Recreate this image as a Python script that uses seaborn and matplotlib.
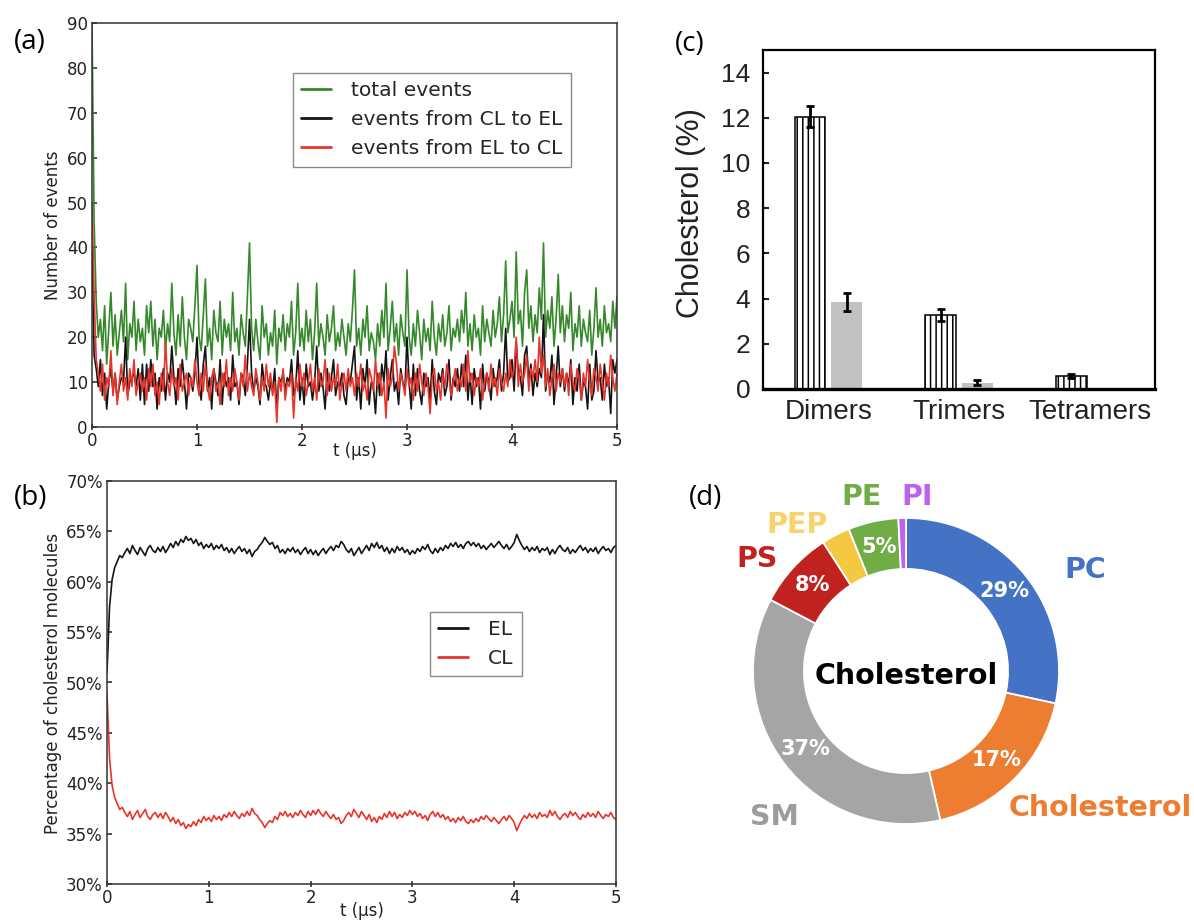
import numpy as np
import pandas as pd
import matplotlib
matplotlib.use("Agg")
import matplotlib.pyplot as plt
import seaborn as sns
from matplotlib.ticker import PercentFormatter

# ---------------- data ----------------
# (a) number of exchange events vs time (0 .. 5 us)
total_events = [
    90, 46, 28, 20, 24, 17, 27, 14, 22, 30, 18, 25, 16, 21, 26, 19, 32, 15, 23, 20, 28, 17, 24, 19, 22,
    16, 27, 21, 28, 18, 24, 15, 22, 20, 26, 17, 23, 19, 32, 21, 16, 25, 18, 29, 20, 15, 24, 22, 19, 27,
    36, 20, 17, 25, 33, 18, 22, 15, 26, 21, 19, 28, 16, 24, 20, 23, 17, 30, 19, 22, 16, 25, 21, 18, 29,
    41, 22, 17, 24, 19, 15, 27, 20, 23, 16, 21, 18, 26, 14, 22, 19, 25, 17, 23, 20, 28, 16, 21, 32, 18,
    22, 17, 26, 19, 24, 15, 21, 32, 18, 23, 20, 16, 25, 19, 22, 27, 17, 21, 18, 24, 20, 16, 23, 19, 26,
    35, 18, 22, 16, 24, 20, 27, 17, 21, 19, 15, 23, 18, 26, 20, 32, 17, 22, 28, 19, 23, 16, 25, 21, 18,
    35, 20, 16, 23, 18, 26, 21, 15, 24, 19, 22, 17, 28, 20, 16, 23, 19, 25, 18, 21, 27, 17, 22, 20, 24,
    19, 26, 21, 30, 18, 23, 17, 25, 20, 22, 16, 27, 19, 24, 21, 18, 26, 20, 23, 29, 19, 25, 37, 21, 24,
    28, 20, 39, 23, 26, 18, 30, 35, 22, 27, 19, 25, 21, 31, 24, 41, 20, 26, 22, 29, 18, 24, 34, 21, 27,
    19, 25, 22, 30, 17, 23, 20, 27, 18, 24, 21, 19, 26, 16, 22, 31, 20, 24, 18, 27, 21, 23, 19, 28, 22,
    29,
]
cl_to_el = [
    40, 16, 13, 9, 15, 7, 12, 4, 10, 13, 8, 12, 6, 9, 11, 10, 20, 7, 10, 11, 12, 9, 13, 6, 14,
    5, 14, 8, 15, 9, 12, 4, 11, 8, 13, 6, 12, 10, 18, 11, 5, 13, 9, 15, 10, 4, 12, 11, 8, 12,
    20, 9, 6, 14, 18, 8, 11, 4, 13, 10, 7, 15, 5, 12, 9, 11, 6, 16, 9, 10, 5, 12, 11, 7, 14,
    24, 12, 8, 11, 9, 5, 14, 10, 9, 6, 10, 8, 13, 4, 11, 10, 12, 8, 11, 10, 15, 7, 9, 17, 6,
    11, 5, 14, 9, 10, 6, 10, 18, 8, 12, 9, 4, 13, 8, 11, 15, 7, 10, 9, 12, 7, 5, 11, 10, 14,
    18, 6, 11, 4, 13, 9, 15, 5, 10, 9, 3, 12, 7, 14, 10, 17, 6, 11, 15, 8, 10, 5, 13, 10, 8,
    20, 10, 4, 14, 7, 13, 8, 5, 12, 9, 11, 6, 15, 8, 5, 12, 10, 13, 7, 9, 15, 6, 11, 9, 13,
    8, 14, 9, 16, 6, 12, 5, 13, 9, 11, 4, 14, 8, 12, 10, 6, 13, 9, 11, 15, 8, 12, 22, 10, 11,
    15, 8, 19, 12, 11, 7, 16, 18, 10, 14, 7, 12, 9, 13, 11, 25, 8, 12, 10, 16, 5, 11, 18, 9, 13,
    8, 12, 9, 15, 5, 11, 8, 14, 6, 10, 9, 4, 14, 6, 8, 17, 10, 11, 6, 14, 9, 11, 3, 15, 12,
    15,
]
el_to_cl = [
    50, 30, 15, 12, 8, 14, 6, 11, 9, 17, 7, 12, 5, 10, 14, 8, 11, 6, 13, 9, 15, 7, 10, 12, 8,
    11, 6, 13, 9, 14, 7, 10, 5, 12, 8, 19, 10, 7, 13, 9, 11, 6, 14, 8, 10, 12, 7, 11, 9, 15,
    10, 7, 12, 8, 14, 9, 6, 11, 13, 8, 10, 5, 12, 9, 15, 7, 11, 8, 13, 10, 6, 12, 9, 16, 8,
    12, 9, 7, 13, 10, 6, 11, 8, 14, 9, 12, 7, 10, 1, 11, 8, 13, 6, 10, 9, 12, 2, 11, 8, 14,
    9, 12, 7, 10, 14, 8, 11, 6, 13, 9, 10, 15, 7, 12, 8, 11, 9, 14, 6, 10, 12, 8, 13, 9, 11,
    7, 12, 9, 14, 8, 10, 6, 13, 11, 8, 15, 9, 12, 7, 10, 2, 13, 9, 11, 18, 14, 8, 12, 10, 7,
    13, 9, 11, 6, 12, 8, 14, 10, 7, 12, 9, 3, 11, 13, 8, 10, 6, 12, 9, 14, 11, 7, 10, 13, 8,
    11, 9, 14, 8, 17, 10, 12, 7, 11, 9, 13, 6, 10, 12, 8, 14, 9, 11, 7, 13, 10, 8, 12, 9, 15,
    11, 13, 20, 9, 14, 10, 12, 16, 8, 13, 11, 15, 10, 20, 12, 16, 9, 13, 7, 11, 14, 8, 12, 10, 13,
    9, 12, 7, 14, 10, 8, 13, 11, 6, 12, 9, 15, 10, 7, 13, 11, 8, 14, 10, 6, 12, 9, 16, 11, 8,
    12,
]

# (b) percentage of cholesterol molecules in EL / CL vs time (0 .. 5 us)
el_percent = [
    51.0, 57.5, 60.2, 61.4, 62.0, 62.6, 62.4, 62.9, 63.3, 62.8, 63.6, 63.1, 62.7, 63.4, 63.0, 62.6, 63.3, 63.6, 63.1, 62.9,
    63.4, 63.0, 63.5, 62.9, 63.3, 63.8, 63.4, 64.0, 63.6, 64.2, 63.9, 64.5, 64.1, 64.3, 63.8, 64.2, 63.6, 63.9, 63.3, 63.7,
    63.4, 63.8, 63.2, 63.6, 63.3, 63.7, 63.1, 63.4, 62.9, 63.3, 62.8, 63.2, 63.5, 63.0, 63.3, 62.8, 63.2, 62.5, 63.0, 63.2,
    63.6, 63.9, 64.4, 64.0, 63.7, 63.9, 63.3, 63.6, 62.9, 63.2, 62.8, 63.3, 63.0, 63.4, 62.9, 63.2, 62.7, 63.1, 63.4, 62.8,
    63.2, 62.7, 63.1, 62.6, 63.0, 63.3, 62.8, 63.2, 63.5, 63.1, 63.6, 63.4, 64.0, 63.7, 63.2, 62.9, 63.3, 62.6, 63.0, 63.4,
    62.8, 63.2, 63.6, 63.1, 63.8, 63.4, 63.9, 63.3, 63.6, 63.0, 63.4, 62.8, 63.3, 62.9, 63.5, 63.1, 63.4, 62.9, 63.2, 62.7,
    63.1, 62.8, 63.3, 63.0, 63.5, 63.2, 63.7, 63.1, 62.8, 63.3, 62.9, 63.4, 63.1, 63.6, 63.3, 63.8, 63.5, 63.9, 63.4, 63.7,
    63.3, 63.8, 64.0, 63.6, 63.9, 63.5, 63.8, 63.3, 63.6, 63.2, 63.5, 63.8, 63.4, 63.7, 64.0, 63.6, 63.3, 63.7, 63.2, 63.5,
    63.9, 64.7, 64.1, 63.6, 63.2, 63.5, 63.0, 63.4, 63.1, 63.5, 62.9, 63.3, 63.1, 63.4, 62.7, 63.2, 62.8, 63.3, 63.6, 63.2,
    63.0, 63.4, 62.8, 63.2, 62.9, 63.3, 63.6, 63.1, 63.4, 62.9, 63.3, 63.0, 63.4, 62.8, 63.2, 63.5, 63.1, 63.3, 62.9, 63.4,
    63.6,
]
cl_percent = [
    49.0, 42.5, 39.8, 38.6, 38.0, 37.4, 37.6, 37.1, 36.7, 37.2, 36.4, 36.9, 37.3, 36.6, 37.0, 37.4, 36.7, 36.4, 36.9, 37.1,
    36.6, 37.0, 36.5, 37.1, 36.7, 36.2, 36.6, 36.0, 36.4, 35.8, 36.1, 35.5, 35.9, 35.7, 36.2, 35.8, 36.4, 36.1, 36.7, 36.3,
    36.6, 36.2, 36.8, 36.4, 36.7, 36.3, 36.9, 36.6, 37.1, 36.7, 37.2, 36.8, 36.5, 37.0, 36.7, 37.2, 36.8, 37.5, 37.0, 36.8,
    36.4, 36.1, 35.6, 36.0, 36.3, 36.1, 36.7, 36.4, 37.1, 36.8, 37.2, 36.7, 37.0, 36.6, 37.1, 36.8, 37.3, 36.9, 36.6, 37.2,
    36.8, 37.3, 36.9, 37.4, 37.0, 36.7, 37.2, 36.8, 36.5, 36.9, 36.4, 36.6, 36.0, 36.3, 36.8, 37.1, 36.7, 37.4, 37.0, 36.6,
    37.2, 36.8, 36.4, 36.9, 36.2, 36.6, 36.1, 36.7, 36.4, 37.0, 36.6, 37.2, 36.7, 37.1, 36.5, 36.9, 36.6, 37.1, 36.8, 37.3,
    36.9, 37.2, 36.7, 37.0, 36.5, 36.8, 36.3, 36.9, 37.2, 36.7, 37.1, 36.6, 36.9, 36.4, 36.7, 36.2, 36.5, 36.1, 36.6, 36.3,
    36.7, 36.2, 36.0, 36.4, 36.1, 36.5, 36.2, 36.7, 36.4, 36.8, 36.5, 36.2, 36.6, 36.3, 36.0, 36.4, 36.7, 36.3, 36.8, 36.5,
    36.1, 35.3, 35.9, 36.4, 36.8, 36.5, 37.0, 36.6, 36.9, 36.5, 37.1, 36.7, 36.9, 36.6, 37.3, 36.8, 37.2, 36.7, 36.4, 36.8,
    37.0, 36.6, 37.2, 36.8, 37.1, 36.7, 36.4, 36.9, 36.6, 37.1, 36.7, 37.0, 36.6, 37.2, 36.8, 36.5, 36.9, 36.7, 37.1, 36.6,
    36.4,
]

# (c) cholesterol in oligomers
cluster_types = ["Dimers", "Trimers", "Tetramers"]
chol_striped = [12.05, 3.28, 0.57]
chol_striped_err = [0.45, 0.27, 0.08]
chol_grey = [3.85, 0.28, 0.06]
chol_grey_err = [0.38, 0.10, 0.0]

# (d) lipid composition around cholesterol
lipids = ["PC", "Cholesterol", "SM", "PS", "PEP", "PE", "PI"]
lipid_share = [28.4, 18.0, 36.3, 8.2, 3.0, 5.3, 0.8]
lipid_pct_text = ["29%", "17%", "37%", "8%", "", "5%", ""]

# ---------------- style ----------------
sns.set_style("white")
plt.rcParams["font.family"] = ["DejaVu Sans"]
plt.rcParams["hatch.linewidth"] = 1.1
plt.rcParams["hatch.color"] = "black"

GREEN = "#35892b"
RED = "#e8352b"
BLACK = "#141414"
TICK_C = "#222222"

W, H = 1194, 921
fig = plt.figure(figsize=(W / 100, H / 100), dpi=100)


def box(l, t, r, b):
    return [l / W, 1 - b / H, (r - l) / W, (b - t) / H]


axA = fig.add_axes(box(92, 23, 617, 427))
axB = fig.add_axes(box(107, 481, 616, 884))
axC = fig.add_axes(box(763, 50, 1155, 389))
axD = fig.add_axes(box(706, 471, 1106, 871))


def frame_lines(ax, color="#333333", lw=1.1):
    for s in ax.spines.values():
        s.set_visible(True)
        s.set_color(color)
        s.set_linewidth(lw)


def style_legend(leg):
    fr = leg.get_frame()
    fr.set_edgecolor("#8a8a8a")
    fr.set_linewidth(1.0)
    for ln in leg.get_lines():
        ln.set_linewidth(2.0)


LEG_KW = dict(fontsize=14.6, frameon=True, fancybox=False, framealpha=1,
              handlelength=1.5, handletextpad=1.0, labelspacing=0.5,
              borderpad=0.4, borderaxespad=0)

# ---------------- (a) ----------------
tA_tot = np.linspace(0, 5, len(total_events))
tA_ce = np.linspace(0, 5, len(cl_to_el))
tA_ec = np.linspace(0, 5, len(el_to_cl))
sns.lineplot(x=tA_tot, y=total_events, ax=axA, color=GREEN, lw=1.2,
             label="total events", estimator=None)
sns.lineplot(x=tA_ce, y=cl_to_el, ax=axA, color=BLACK, lw=1.2,
             label="events from CL to EL", estimator=None)
sns.lineplot(x=tA_ec, y=el_to_cl, ax=axA, color=RED, lw=1.2,
             label="events from EL to CL", estimator=None)
axA.set_xlim(0, 5)
axA.set_ylim(0, 90)
axA.set_xticks(range(0, 6))
axA.set_yticks(range(0, 91, 10))
axA.tick_params(axis="x", direction="inout", length=5, width=1.1, labelsize=12,
                pad=1, colors=TICK_C, bottom=True)
axA.tick_params(axis="y", direction="in", length=3.5, width=1.1, labelsize=12,
                pad=3, colors=TICK_C, left=True)
frame_lines(axA)
axA.set_ylabel("Number of events", fontsize=12, color=TICK_C)
axA.yaxis.set_label_coords(-0.057, 0.5)
axA.set_xlabel("t (µs)", fontsize=12, color=TICK_C)
axA.xaxis.set_label_coords(0.5, -0.036)
legA = axA.legend(loc="upper right", bbox_to_anchor=(0.912, 0.876), **LEG_KW)
style_legend(legA)

# ---------------- (b) ----------------
tB_el = np.linspace(0, 5, len(el_percent))
tB_cl = np.linspace(0, 5, len(cl_percent))
sns.lineplot(x=tB_el, y=el_percent, ax=axB, color=BLACK, lw=1.2, label="EL", estimator=None)
sns.lineplot(x=tB_cl, y=cl_percent, ax=axB, color=RED, lw=1.2, label="CL", estimator=None)
axB.set_xlim(0, 5)
axB.set_ylim(30, 70)
axB.set_xticks(range(0, 6))
axB.set_yticks(range(30, 71, 5))
axB.yaxis.set_major_formatter(PercentFormatter(xmax=100, decimals=0))
axB.tick_params(axis="x", direction="inout", length=5, width=1.1, labelsize=12,
                pad=1, colors=TICK_C, bottom=True)
axB.tick_params(axis="y", direction="in", length=3.5, width=1.1, labelsize=12,
                pad=3, colors=TICK_C, left=True)
frame_lines(axB)
axB.set_ylabel("Percentage of cholesterol molecules", fontsize=12, color=TICK_C)
axB.yaxis.set_label_coords(-0.088, 0.497)
axB.set_xlabel("t (µs)", fontsize=12, color=TICK_C)
axB.xaxis.set_label_coords(0.5, -0.045)
legB = axB.legend(loc="upper right", bbox_to_anchor=(0.815, 0.675), **LEG_KW)
style_legend(legB)

# ---------------- (c) ----------------
dfC = pd.DataFrame({
    "cluster": cluster_types * 2,
    "cholesterol": chol_striped + chol_grey,
    "set": ["striped"] * len(cluster_types) + ["grey"] * len(cluster_types),
})
sns.barplot(data=dfC, x="cluster", y="cholesterol", hue="set",
            palette={"striped": "white", "grey": "#c2c2c2"},
            width=0.56, gap=0.16, errorbar=None, legend=False, ax=axC)
bar_sets = list(axC.containers[:2])
for bar in bar_sets[0]:
    bar.set_hatch("|||")
    bar.set_edgecolor("black")
    bar.set_linewidth(1.1)
for bar in bar_sets[1]:
    bar.set_edgecolor("none")
for cont, errs in zip(bar_sets, [chol_striped_err, chol_grey_err]):
    for bar, e in zip(cont, errs):
        if e > 0:
            axC.errorbar(bar.get_x() + bar.get_width() / 2, bar.get_height(), yerr=e,
                         fmt="none", ecolor="black", elinewidth=2, capsize=3,
                         capthick=2, zorder=5)
axC.set_xlim(-0.5, 2.5)
axC.set_ylim(0, 15)
axC.set_yticks(range(0, 15, 2))
axC.tick_params(axis="y", direction="in", length=4.5, width=1.5, labelsize=19,
                pad=9, colors=TICK_C, left=True, labelfontfamily="Liberation Sans")
axC.tick_params(axis="x", length=0, labelsize=20, pad=7, colors=TICK_C,
                labelfontfamily="Liberation Sans")
frame_lines(axC, color="black", lw=1.6)
axC.spines["bottom"].set_linewidth(2.4)
axC.set_xlabel("")
axC.set_ylabel("Cholesterol (%)", fontsize=22, family="Liberation Sans", color=TICK_C)
axC.yaxis.set_label_coords(-0.145, 0.52)

# ---------------- (d) ----------------
lipid_colors = ["#4472c4", "#ed7d31", "#a5a5a5", "#c0231f", "#f5c842", "#70ad47", "#c060f0"]
label_colors = ["#4472c4", "#ed7d31", "#9c9c9c", "#c0231f", "#f8d36a", "#70ad47", "#c060f0"]
wedges, _ = axD.pie(lipid_share, colors=lipid_colors, startangle=90, counterclock=False,
                    radius=1.0, wedgeprops=dict(width=0.333, edgecolor="white", linewidth=1.3))
for w, txt in zip(wedges, lipid_pct_text):
    if txt:
        ang = np.deg2rad((w.theta1 + w.theta2) / 2)
        axD.text(0.83 * np.cos(ang), 0.83 * np.sin(ang), txt, ha="center", va="center",
                 color="white", fontsize=15, fontweight="bold")
name_pos = [(1.170, 0.660), (1.268, -0.895), (-0.863, -0.954), (-0.971, 0.732),
            (-0.712, 0.954), (-0.288, 1.137), (0.072, 1.137)]
for name, (x, y), c in zip(lipids, name_pos, label_colors):
    axD.text(x, y, name, ha="center", va="center", color=c, fontsize=20.5,
             fontweight="bold", clip_on=False)
axD.text(0, -0.033, "Cholesterol", ha="center", va="center", color="black",
         fontsize=20.5, fontweight="bold")
axD.set_xlim(-1.307, 1.307)
axD.set_ylim(-1.307, 1.307)
axD.set_aspect("equal")
axD.axis("off")

# ---------------- panel letters ----------------
for letter, (px, py) in zip(["(a)", "(b)", "(c)", "(d)"],
                            [(30, 42), (31, 498), (690, 44), (706, 498)]):
    fig.text(px / W, 1 - py / H, letter, ha="center", va="center", fontsize=20,
             family=["Open Sans", "DejaVu Sans"], color="black")

fig.savefig("out.png", dpi=100)
